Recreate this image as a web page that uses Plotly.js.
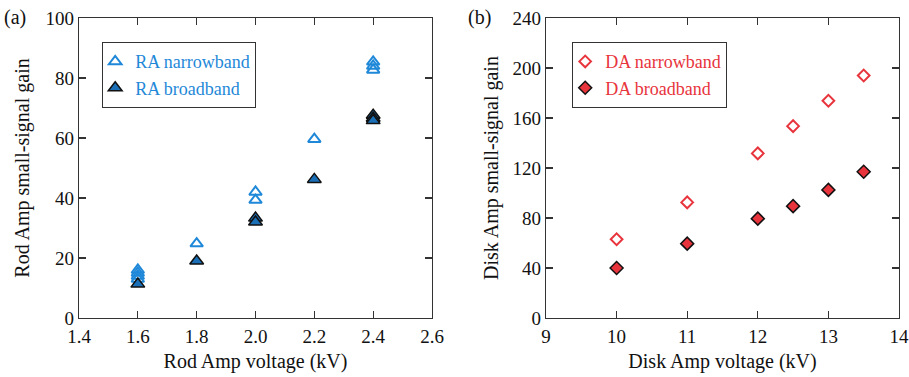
<!DOCTYPE html>
<html><head><meta charset="utf-8">
<script src="https://cdn.plot.ly/plotly-3.0.1.min.js"></script>
<style>body{margin:0;background:#fff}#c{width:909px;height:377px}</style>
</head><body><div id="c"></div>
<script>
// Panel (a): Rod Amp
const raNarrowX = [1.6, 1.6, 1.6, 1.6, 1.8, 2.0, 2.0, 2.2, 2.4, 2.4, 2.4];
const raNarrowY = [16, 15, 14, 13, 24.8, 42, 39.3, 59.6, 85.4, 84, 82.7];
const raBroadX = [1.6, 1.8, 2.0, 2.0, 2.2, 2.4, 2.4, 2.4];
const raBroadY = [11.3, 19, 33.3, 32, 46.2, 67.6, 66.6, 65.8];
// Panel (b): Disk Amp
const daX = [10, 11, 12, 12.5, 13, 13.5];
const daNarrowY = [63, 92.5, 131.7, 153.5, 173.8, 194];
const daBroadY = [40, 59.5, 79.5, 89.5, 102.5, 117];

const xTicksA = [1.4, 1.6, 1.8, 2.0, 2.2, 2.4, 2.6];
const xTickTextA = ['1.4', '1.6', '1.8', '2.0', '2.2', '2.4', '2.6'];
const yTicksA = [0, 20, 40, 60, 80, 100];
const xTicksB = [9, 10, 11, 12, 13, 14];
const yTicksB = [0, 40, 80, 120, 160, 200, 240];

const blue = '#1f88d8', blueFill = '#1b6fb6', red = '#e8343c';
const fam = 'Liberation Serif';
const tickFont = {family: fam, size: 19, color: '#111'};
const titleFont = {family: fam, size: 20, color: '#111'};

const traces = [
  {x: raNarrowX, y: raNarrowY, type: 'scatter', mode: 'markers', name: 'RA narrowband',
   marker: {symbol: 'triangle-up-open', size: 11, color: blue, line: {width: 2, color: blue}},
   xaxis: 'x', yaxis: 'y', legend: 'legend'},
  {x: raBroadX, y: raBroadY, type: 'scatter', mode: 'markers', name: 'RA broadband',
   marker: {symbol: 'triangle-up', size: 12, color: blueFill, line: {width: 1.5, color: '#111'}},
   xaxis: 'x', yaxis: 'y', legend: 'legend'},
  {x: daX, y: daNarrowY, type: 'scatter', mode: 'markers', name: 'DA narrowband',
   marker: {symbol: 'diamond-open', size: 9, color: red, line: {width: 2, color: red}},
   xaxis: 'x2', yaxis: 'y2', legend: 'legend2'},
  {x: daX, y: daBroadY, type: 'scatter', mode: 'markers', name: 'DA broadband',
   marker: {symbol: 'diamond', size: 10, color: red, line: {width: 1.5, color: '#111'}},
   xaxis: 'x2', yaxis: 'y2', legend: 'legend2'}
];

const axBase = {showgrid: false, zeroline: false, showline: true, linecolor: '#333', linewidth: 1.2,
  mirror: 'ticks', ticks: 'inside', ticklen: 7, tickwidth: 1.2, tickcolor: '#333', tickfont: tickFont};

const legBase = {xanchor: 'left', yanchor: 'top', bgcolor: '#fff', bordercolor: '#333', borderwidth: 1.2,
  itemwidth: 30, tracegroupgap: 0, indentation: -8};

const layout = {
  width: 909, height: 377, margin: {l: 0, r: 0, t: 0, b: 0},
  paper_bgcolor: '#fff', plot_bgcolor: '#fff', font: tickFont,
  xaxis: Object.assign({}, axBase, {domain: [79/909, 432/909], range: [1.4, 2.6], tickvals: xTicksA, ticktext: xTickTextA,
    anchor: 'y', ticklabelstandoff: 1, title: {text: 'Rod Amp voltage (kV)', font: titleFont, standoff: 8}}),
  yaxis: Object.assign({}, axBase, {domain: [59/377, 359/377], range: [0, 100], tickvals: yTicksA, anchor: 'x',
    title: {text: 'Rod Amp small-signal gain', font: titleFont, standoff: 10}}),
  xaxis2: Object.assign({}, axBase, {domain: [546/909, 899/909], range: [9, 14], tickvals: xTicksB, anchor: 'y2',
    ticklabelstandoff: 1, title: {text: 'Disk Amp voltage (kV)', font: titleFont, standoff: 8}}),
  yaxis2: Object.assign({}, axBase, {domain: [59/377, 359/377], range: [0, 240], tickvals: yTicksB, anchor: 'x2',
    title: {text: 'Disk Amp small-signal gain', font: titleFont, standoff: 8}}),
  legend: Object.assign({}, legBase, {x: 102/909, y: 335/377, font: {family: fam, size: 18, color: blue}}),
  legend2: Object.assign({}, legBase, {x: 572/909, y: 335/377, font: {family: fam, size: 18, color: red}}),
  annotations: [
    {text: '(a)', xref: 'paper', yref: 'paper', x: 2/909, y: 359/377, xanchor: 'left', yanchor: 'middle', showarrow: false, font: {family: fam, size: 20, color: '#111'}},
    {text: '(b)', xref: 'paper', yref: 'paper', x: 466/909, y: 359/377, xanchor: 'left', yanchor: 'middle', showarrow: false, font: {family: fam, size: 20, color: '#111'}}
  ],
  showlegend: true
};
Plotly.newPlot('c', traces, layout, {staticPlot: true, displayModeBar: false});
</script></body></html>
